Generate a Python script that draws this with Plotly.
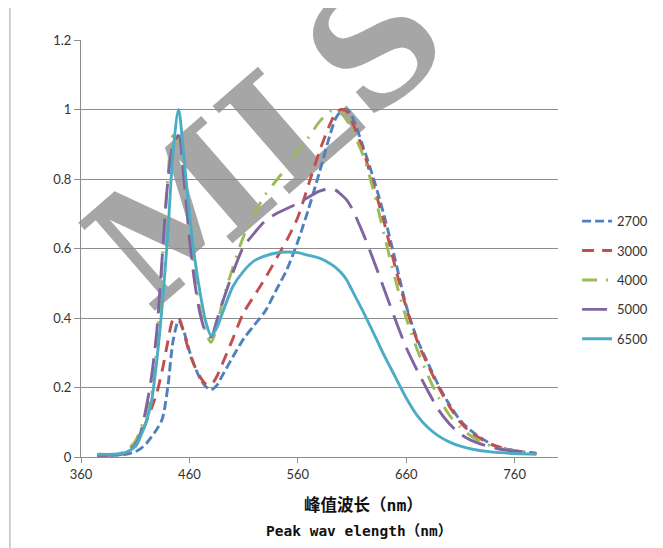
import plotly.graph_objects as go

# Wavelength grid (nm)
wavelength = [375, 390, 400, 410, 415, 420, 425, 430, 435, 440,
              445, 450, 455, 460, 465, 470, 475, 480, 485, 490,
              500, 510, 520, 530, 540, 550, 560, 570, 580, 590,
              595, 600, 605, 610, 620, 630, 640, 650, 660, 670,
              680, 690, 700, 710, 720, 740, 760, 780]

cct_2700 = [0.004, 0.005, 0.007, 0.015, 0.024, 0.038, 0.058, 0.08, 0.11, 0.20,
            0.335, 0.392, 0.36, 0.305, 0.26, 0.225, 0.203, 0.194, 0.205, 0.232,
            0.288, 0.34, 0.38, 0.42, 0.48, 0.54, 0.62, 0.715, 0.82, 0.93,
            0.975, 0.995, 1.0, 0.98, 0.895, 0.80, 0.69, 0.565, 0.435, 0.34,
            0.27, 0.205, 0.15, 0.105, 0.075, 0.035, 0.018, 0.01]

cct_3000 = [0.004, 0.006, 0.01, 0.03, 0.06, 0.10, 0.14, 0.185, 0.25, 0.33,
            0.395, 0.40, 0.355, 0.30, 0.26, 0.23, 0.21, 0.208, 0.23, 0.265,
            0.34, 0.415, 0.465, 0.515, 0.57, 0.625, 0.69, 0.785, 0.88, 0.96,
            0.99, 1.0, 0.995, 0.965, 0.885, 0.78, 0.67, 0.545, 0.43, 0.335,
            0.265, 0.20, 0.145, 0.10, 0.07, 0.034, 0.018, 0.01]

cct_4000 = [0.005, 0.008, 0.015, 0.045, 0.08, 0.13, 0.18, 0.32, 0.56, 0.80,
            0.925, 0.91, 0.81, 0.67, 0.52, 0.42, 0.36, 0.33, 0.37, 0.44,
            0.545, 0.635, 0.70, 0.755, 0.795, 0.835, 0.88, 0.92, 0.965, 0.995,
            1.0, 0.99, 0.97, 0.94, 0.87, 0.765, 0.635, 0.51, 0.40, 0.31,
            0.235, 0.17, 0.12, 0.085, 0.06, 0.03, 0.017, 0.01]

cct_5000 = [0.005, 0.006, 0.012, 0.035, 0.07, 0.14, 0.23, 0.365, 0.58, 0.79,
            0.90, 0.925, 0.80, 0.63, 0.50, 0.41, 0.36, 0.345, 0.39, 0.44,
            0.53, 0.605, 0.645, 0.68, 0.70, 0.715, 0.73, 0.748, 0.765, 0.773,
            0.768, 0.755, 0.74, 0.715, 0.645, 0.565, 0.48, 0.395, 0.315, 0.25,
            0.19, 0.135, 0.095, 0.066, 0.048, 0.027, 0.016, 0.01]

cct_6500 = [0.008, 0.008, 0.012, 0.03, 0.06, 0.10, 0.16, 0.28, 0.44, 0.64,
            0.88, 1.0, 0.86, 0.70, 0.57, 0.47, 0.39, 0.35, 0.37, 0.41,
            0.49, 0.535, 0.565, 0.579, 0.587, 0.59, 0.588, 0.58, 0.572, 0.556,
            0.545, 0.53, 0.51, 0.48, 0.42, 0.356, 0.29, 0.23, 0.17, 0.12,
            0.085, 0.06, 0.043, 0.031, 0.023, 0.014, 0.01, 0.008]

series_names = ["2700", "3000", "4000", "5000", "6500"]
series_values = [cct_2700, cct_3000, cct_4000, cct_5000, cct_6500]
series_colors = ["#4F81BD", "#C0504D", "#9BBB59", "#8064A2", "#4BACC6"]
series_dash = ["9px,4px", "12px,8px", "15px,9px,2px,9px", "25px,10px", "solid"]

x_ticks = [360, 460, 560, 660, 760]

fig = go.Figure()
for name, vals, col, dash in zip(series_names, series_values, series_colors, series_dash):
    fig.add_trace(go.Scatter(
        x=wavelength, y=vals, name=name, mode="lines",
        legendgroup=name,
        line=dict(color=col, width=2.9, dash=dash, shape="spline", smoothing=0.8),
    ))

grid_col = "#8C8C8C"
fig.update_layout(
    width=663, height=548,
    margin=dict(l=73, r=113, t=32, b=99),
    paper_bgcolor="white",
    plot_bgcolor="rgba(0,0,0,0)",
    font=dict(family="Lato, Liberation Sans, sans-serif", size=13, color="#333333"),
    showlegend=True,
    legend=dict(x=1.04, xanchor="left", y=0.424, yanchor="middle",
                font=dict(size=13, color="#333333"), tracegroupgap=9.5,
                bgcolor="rgba(0,0,0,0)"),
    xaxis=dict(range=[360, 800], tickvals=x_ticks, showgrid=False,
               showline=True, linecolor=grid_col, linewidth=1,
               ticks="outside", ticklen=5, tickcolor=grid_col, zeroline=False),
    yaxis=dict(range=[0, 1.2], dtick=0.2, tick0=0, showgrid=True,
               gridcolor=grid_col, gridwidth=1,
               showline=True, linecolor=grid_col, linewidth=1,
               ticks="outside", ticklen=6, tickcolor=grid_col, zeroline=False),
)

# outer chart border (partially visible)
fig.add_shape(type="rect", xref="paper", yref="paper",
              x0=-0.149, x1=1.26, y0=-0.25, y1=1.079,
              line=dict(color="#A0A0A0", width=1), fillcolor="rgba(0,0,0,0)",
              layer="below")

# watermark
fig.add_shape(type="rect", xref="paper", yref="paper",
              x0=0.364, x1=0.384, y0=0.768, y1=0.788,
              line=dict(width=0), fillcolor="rgba(0,0,0,0)", layer="below",
              label=dict(text="MLS", textangle=-41, textposition="middle center",
                         font=dict(family="DejaVu Serif", size=160,
                                   color="#A6A6A6", weight="bold")))

fig.add_annotation(text="<b>峰值波长（nm）</b>", xref="paper", yref="paper",
                   x=0.593, y=-0.1175, xanchor="center", yanchor="middle",
                   showarrow=False,
                   font=dict(family="DejaVu Sans Mono, Noto Sans CJK SC", size=16.5, color="#111111"))
fig.add_annotation(text="<b>Peak wav elength（nm）</b>", xref="paper", yref="paper",
                   x=0.583, y=-0.1775, xanchor="center", yanchor="middle",
                   showarrow=False,
                   font=dict(family="DejaVu Sans Mono, Noto Sans CJK SC", size=14.5, color="#111111"))

fig.write_html("out.html")
